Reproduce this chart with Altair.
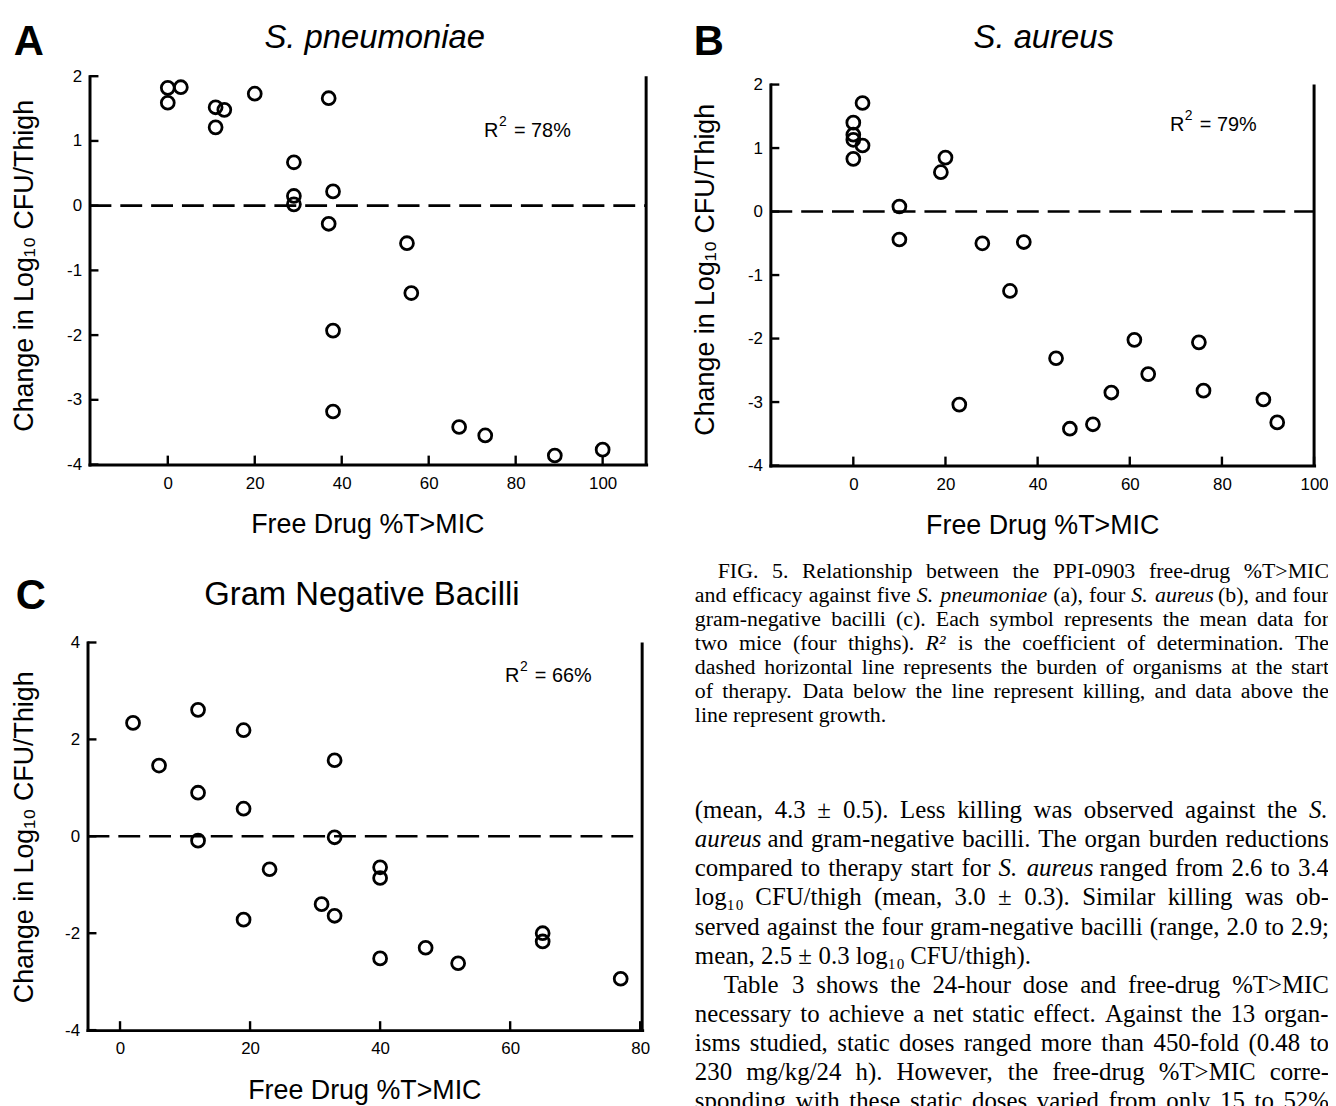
import altair as alt
import pandas as pd

# ---------------- data ----------------
# Panel A: S. pneumoniae
pneumo_x = [0, 0, 3, 11, 13, 11, 20, 37, 29, 29, 29, 38, 37, 55, 56, 38, 38, 67, 73, 89, 100]
pneumo_y = [1.82, 1.59, 1.83, 1.52, 1.48, 1.21, 1.73, 1.66, 0.67, 0.15, 0.02, 0.22,
            -0.28, -0.58, -1.35, -1.93, -3.18, -3.42, -3.55, -3.86, -3.77]
# Panel B: S. aureus
aureus_x = [2, 0, 0, 0, 2, 0, 20, 19, 10, 10, 28, 37, 34, 44, 23, 47, 52, 56, 61, 64, 75, 76, 89, 92]
aureus_y = [1.71, 1.40, 1.21, 1.13, 1.04, 0.83, 0.85, 0.62, 0.08, -0.44, -0.50, -0.48,
            -1.25, -2.31, -3.04, -3.42, -3.35, -2.85, -2.02, -2.56, -2.06, -2.82, -2.96, -3.32]
# Panel C: Gram negative bacilli
gnb_x = [2, 6, 12, 12, 12, 19, 19, 19, 23, 33, 33, 31, 33, 40, 40, 40, 47, 52, 65, 65, 77]
gnb_y = [2.34, 1.46, 2.61, 0.90, -0.09, 2.19, 0.57, -1.72, -0.68, 1.57, -0.02, -1.40,
         -1.64, -0.64, -0.86, -2.52, -2.30, -2.62, -2.00, -2.17, -2.94]

# tick values
ab_xticks = [0, 20, 40, 60, 80, 100]
ab_yticks = [-4, -3, -2, -1, 0, 1, 2]
c_xticks = [0, 20, 40, 60, 80]
c_yticks = [-4, -2, 0, 2, 4]

# axis domains
a_xdom, a_ydom = [-18, 110], [-4, 2]
b_xdom, b_ydom = [-18, 100], [-4, 2]
c_xdom, c_ydom = [-5, 80.3], [-4, 4]

# texts
panel_letters = ["A", "B", "C"]
panel_titles = ["S. pneumoniae", "S. aureus", "Gram Negative Bacilli"]
r2_values = ["= 78%", "= 79%", "= 66%"]
x_title = "Free Drug %T>MIC"
y_title = "Change in Log\u2081\u2080 CFU/Thigh"

caption_lines = [
    "FIG. 5. Relationship between the PPI-0903 free-drug %T>MIC",
    "and efficacy against five S. pneumoniae (a), four S. aureus (b), and four",
    "gram-negative bacilli (c). Each symbol represents the mean data for",
    "two mice (four thighs). R\u00b2 is the coefficient of determination. The",
    "dashed horizontal line represents the burden of organisms at the start",
    "of therapy. Data below the line represent killing, and data above the",
    "line represent growth.",
]
body_lines = [
    "(mean, 4.3 \u00b1 0.5). Less killing was observed against the S.",
    "aureus and gram-negative bacilli. The organ burden reductions",
    "compared to therapy start for S. aureus ranged from 2.6 to 3.4",
    "log\u2081\u2080 CFU/thigh (mean, 3.0 \u00b1 0.3). Similar killing was ob-",
    "served against the four gram-negative bacilli (range, 2.0 to 2.9;",
    "mean, 2.5 \u00b1 0.3 log\u2081\u2080 CFU/thigh).",
    "Table 3 shows the 24-hour dose and free-drug %T>MIC",
    "necessary to achieve a net static effect. Against the 13 organ-",
    "isms studied, static doses ranged more than 450-fold (0.48 to",
    "230 mg/kg/24 h). However, the free-drug %T>MIC corre-",
    "sponding with these static doses varied from only 15 to 52%",
]
italic_words = {"S.", "pneumoniae", "aureus", "R\u00b2"}

# ---------------- layout / style ----------------
W, H = 1328, 1098
SANS = "Liberation Sans"
SERIF = "Liberation Serif"
ONE = pd.DataFrame({"k": [0]})

BOX_A = (82, 642, 65.3, 456)    # left, right, top, bottom (pixels)
BOX_B = (767, 1314, 73.7, 457)
BOX_C = (80, 638, 635, 1025)

# approximate Times advance widths (per 1000 em) for text justification
_TW = {" ": 250, "!": 333, "%": 833, "(": 333, ")": 333, ",": 250, "-": 333, ".": 250,
       "/": 278, ":": 278, ";": 278, ">": 564, "=": 564, "\u00b1": 564, "\u00b2": 300,
       "\u2081": 330, "\u2080": 330,
       "A": 722, "B": 667, "C": 667, "D": 722, "E": 611, "F": 556, "G": 722, "H": 722,
       "I": 333, "J": 389, "K": 722, "L": 611, "M": 889, "N": 722, "O": 722, "P": 556,
       "Q": 722, "R": 667, "S": 556, "T": 611, "U": 722, "V": 722, "W": 944, "X": 722,
       "Y": 722, "Z": 611,
       "a": 444, "b": 500, "c": 444, "d": 500, "e": 444, "f": 333, "g": 500, "h": 500,
       "i": 278, "j": 278, "k": 500, "l": 278, "m": 778, "n": 500, "o": 500, "p": 500,
       "q": 500, "r": 333, "s": 389, "t": 278, "u": 500, "v": 500, "w": 722, "x": 500,
       "y": 500, "z": 444}


def text_width(s, size):
    return sum(_TW.get(ch, 500) for ch in s) / 1000.0 * size


def panel(xs, ys, xticks, yticks, xdom, ydom, box):
    left, right, top, bottom = box
    sx = alt.Scale(domain=xdom, range=[left, right], nice=False, zero=False)
    sy = alt.Scale(domain=ydom, range=[bottom, top], nice=False, zero=False)
    common = dict(grid=False, ticks=False, tickSize=0, domainColor="black", domainWidth=3,
                  domainCap="square", labelFont=SANS, labelFontSize=17, labelColor="black",
                  labelFlush=False, labelOverlap=False, title=None,
                  labelExpr="'' + datum.value")
    xa = alt.Axis(orient="bottom", offset=bottom - H, values=xticks, labelPadding=11, **common)
    ya = alt.Axis(orient="left", offset=-left, values=yticks, labelPadding=8, **common)
    pts = alt.Chart(pd.DataFrame({"x": xs, "y": ys})).mark_point(
        shape="circle", filled=False, size=169, strokeWidth=2.8, color="black", opacity=1
    ).encode(x=alt.X("x:Q", scale=sx, axis=xa), y=alt.Y("y:Q", scale=sy, axis=ya))
    zero = alt.Chart(pd.DataFrame({"y": [0]})).mark_rule(
        strokeDash=[22, 9], strokeWidth=2.6, color="black"
    ).encode(y=alt.Y("y:Q", scale=sy, axis=None), x=alt.value(left), x2=alt.value(right))
    ytk = alt.Chart(pd.DataFrame({"y": yticks})).mark_rule(strokeWidth=2.4, color="black").encode(
        y=alt.Y("y:Q", scale=sy, axis=None), x=alt.value(left), x2=alt.value(left + 9))
    xtk = alt.Chart(pd.DataFrame({"x": xticks})).mark_rule(strokeWidth=2.4, color="black").encode(
        x=alt.X("x:Q", scale=sx, axis=None), y=alt.value(bottom), y2=alt.value(bottom - 9))
    border = alt.Chart(pd.DataFrame({"y": [ydom[0]], "y2": [ydom[1]]})).mark_rule(
        strokeWidth=3, color="black"
    ).encode(y=alt.Y("y:Q", scale=sy, axis=None), y2="y2:Q", x=alt.value(right))
    return [zero, ytk, xtk, border, pts]


def label(text, x, y, size, font=SANS, align="center", baseline="alphabetic",
          angle=0, style="normal", weight="normal"):
    return alt.Chart(ONE).mark_text(
        text=text, font=font, fontSize=size, align=align, baseline=baseline,
        angle=angle, fontStyle=style, fontWeight=weight, color="black"
    ).encode(x=alt.value(x), y=alt.value(y))


def justified(lines, x0, x1, y0, lh, size, indent_map, ragged):
    """Lay out words so each full line spans x0..x1 (justified paragraph)."""
    upright, slanted = [], []
    for i, line in enumerate(lines):
        y = y0 + i * lh
        xl = x0 + indent_map.get(i, 0)
        words = line.split(" ")
        widths = [text_width(w, size) for w in words]
        if i in ragged or len(words) < 2:
            gap = 0.25 * size
        else:
            gap = (x1 - xl - sum(widths)) / (len(words) - 1)
        x = xl
        for w, wd in zip(words, widths):
            row = {"t": w, "px": x, "py": y}
            (slanted if w in italic_words else upright).append(row)
            x += wd + gap
    out = []
    for rows, style in ((upright, "normal"), (slanted, "italic")):
        if rows:
            out.append(alt.Chart(pd.DataFrame(rows)).mark_text(
                font=SERIF, fontSize=size, align="left", baseline="alphabetic",
                fontStyle=style, color="black"
            ).encode(x=alt.X("px:Q", scale=None, axis=None),
                     y=alt.Y("py:Q", scale=None, axis=None), text="t:N"))
    return out


layers = []
layers += panel(pneumo_x, pneumo_y, ab_xticks, ab_yticks, a_xdom, a_ydom, BOX_A)
layers += panel(aureus_x, aureus_y, ab_xticks, ab_yticks, b_xdom, b_ydom, BOX_B)
layers += panel(gnb_x, gnb_y, c_xticks, c_yticks, c_xdom, c_ydom, BOX_C)

# panel letters
layers.append(label(panel_letters[0], 21, 44, 42, weight="bold"))
layers.append(label(panel_letters[1], 705, 44, 42, weight="bold"))
layers.append(label(panel_letters[2], 23, 601, 42, weight="bold"))
# panel titles
layers.append(label(panel_titles[0], 369, 37, 33, style="italic"))
layers.append(label(panel_titles[1], 1042, 37, 33, style="italic"))
layers.append(label(panel_titles[2], 356, 597, 33))
# axis titles
layers.append(label(x_title, 362, 525, 27))
layers.append(label(x_title, 1041, 526, 27))
layers.append(label(x_title, 359, 1094, 27))
layers.append(label(y_title, 25, 256, 27, angle=270))
layers.append(label(y_title, 710, 260, 27, angle=270))
layers.append(label(y_title, 25, 831, 27, angle=270))
# R^2 annotations
for (rx, ry), val in zip([(479, 126), (1169, 120), (500, 675)], r2_values):
    layers.append(label("R", rx, ry, 20, align="left"))
    layers.append(label("2", rx + 15, ry - 11, 14, align="left"))
    layers.append(label(val, rx + 30, ry, 20, align="left"))

# caption and body text
layers += justified(caption_lines, 691, 1329, 570.6, 24, 22, {0: 23}, {6})
layers += justified(body_lines, 691, 1329, 812, 29.2, 25, {6: 29}, {5})

chart = alt.layer(*layers).resolve_scale(
    x="independent", y="independent"
).resolve_axis(
    x="independent", y="independent"
).properties(
    width=W, height=H, autosize=alt.AutoSizeParams(type="none"), padding=0
).configure_view(stroke=None)

chart.save("out.html", embed_options={"renderer": "svg", "actions": False})
